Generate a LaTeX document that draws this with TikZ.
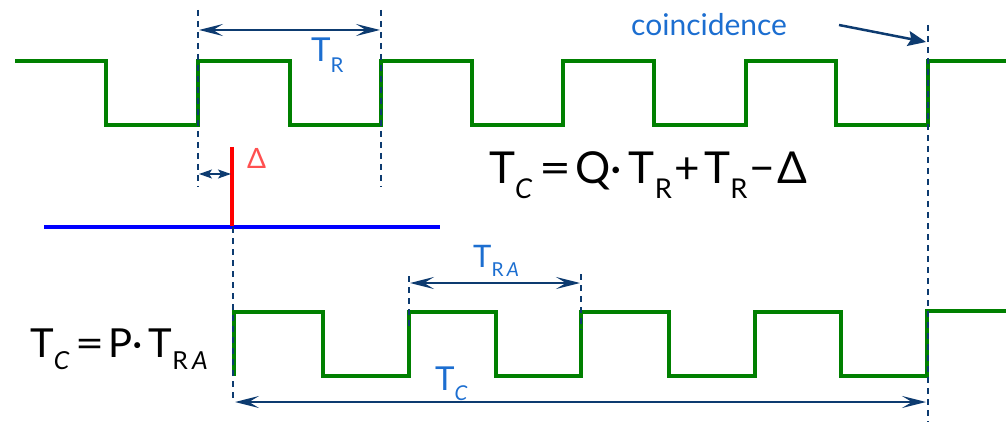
\documentclass[tikz,border=0pt]{standalone}
\usepackage{fontspec}
\setmainfont{Lato}
\usepackage{graphicx}
\usetikzlibrary{arrows.meta}
\definecolor{wavegreen}{HTML}{008000}
\definecolor{navy}{HTML}{0D3B70}
\definecolor{lblue}{HTML}{1C6ED0}
\definecolor{dred}{HTML}{FF5050}
\definecolor{pblue}{HTML}{0000FF}
\definecolor{pred}{HTML}{FF0000}
\newcommand\lo[1]{\raisebox{-0.32em}{\scalebox{0.62}{#1}}}
\newcommand\weq{\scalebox{1.25}[1]{=}}
\begin{document}
\begin{tikzpicture}[x=1pt,y=-1pt,
  wave/.style={draw=wavegreen,line width=4pt,line join=miter},
  guide/.style={draw=navy,line width=1.5pt,dash pattern=on 6pt off 5pt},
  dim/.style={draw=navy,line width=2pt,{Stealth[length=24pt,width=12pt,inset=10pt]}-{Stealth[length=24pt,width=12pt,inset=10pt]}},
  smalldim/.style={draw=navy,line width=1.5pt,{Stealth[length=13pt,width=9pt,inset=3pt]}-{Stealth[length=13pt,width=9pt,inset=3pt]}},
  pointer/.style={draw=navy,line width=2.5pt,-{Stealth[length=18pt,width=15pt,inset=3pt]}},
  lbl/.style={text=lblue,inner sep=0pt,anchor=base west},
  eq/.style={text=black,inner sep=0pt,anchor=base west}]
\useasboundingbox (0,0) rectangle (1006,422);

% waveforms
\draw[wave] (15,61) -- (106,61) -- (106,125) -- (198,125) -- (198,61) -- (290,61) -- (290,125)
  -- (381,125) -- (381,61) -- (472,61) -- (472,125) -- (563,125) -- (563,61) -- (654,61)
  -- (654,125) -- (746,125) -- (746,61) -- (836,61) -- (836,125) -- (928,125) -- (928,61) -- (1006,61);
\draw[wave] (234,376) -- (234,312) -- (323,312) -- (323,376) -- (409,376) -- (409,312) -- (496,312)
  -- (496,376) -- (581,376) -- (581,312) -- (669,312) -- (669,376) -- (755,376) -- (755,312)
  -- (841,312) -- (841,376) -- (927,376) -- (927,311) -- (1006,311);

% reference lines
\draw[draw=pblue,line width=4pt] (44,227) -- (440,227);
\draw[draw=pred,line width=4pt] (232,147) -- (232,226);

% guide coordinates
\coordinate (g1t) at (198,10);  \coordinate (g1b) at (198,187);
\coordinate (g2t) at (381,10);  \coordinate (g2b) at (381,187);
\coordinate (g3t) at (928,25);  \coordinate (g3b) at (928,422);
\coordinate (g4t) at (233,227); \coordinate (g4b) at (233,402);
\coordinate (g5t) at (409,276); \coordinate (g5b) at (409,330);
\coordinate (g6t) at (581,274); \coordinate (g6b) at (581,330);
\draw[guide] (g1t) -- (g1b);
\draw[guide] (g2t) -- (g2b);
\draw[guide] (g3t) -- (g3b);
\draw[guide] (g4t) -- (g4b);
\draw[guide] (g5t) -- (g5b);
\draw[guide] (g6t) -- (g6b);

% dimension arrows
\coordinate (trL) at (199,30);  \coordinate (trR) at (380,30);
\coordinate (dL) at (199,174);  \coordinate (dR) at (231,174);
\coordinate (traL) at (410,283); \coordinate (traR) at (580,283);
\coordinate (tcL) at (235,402); \coordinate (tcR) at (926,402);
\draw[dim] (trL) -- (trR);
\draw[smalldim] (dL) -- (dR);
\draw[dim] (traL) -- (traR);
\draw[dim] (tcL) -- (tcR);

% labels
\node[lbl,font=\fontsize{33}{33}\selectfont] (tr) at (311,62) {T\lo{R}};
\node[lbl,font=\fontsize{30}{30}\selectfont] (coin) at (631,36) {coincidence};
\coordinate (coinTip) at (926,42);
\draw[pointer] (839,25) -- (coinTip);
\node[inner sep=0pt,anchor=base west,text=dred,font=\fontsize{28}{28}\selectfont] (delta) at (247,169) {Δ};
\node[eq,font=\fontsize{44}{44}\selectfont] (eq1) at (489,184)
  {T\lo{\itshape C}\hspace{7pt}\weq\hspace{4pt}Q·\hspace{7pt}T\lo{R}\hspace{3pt}+\hspace{4pt}T\lo{R}\hspace{2pt}−\hspace{3pt}Δ};
\node[eq,font=\fontsize{40}{40}\selectfont] (eq2) at (30,357)
  {T\lo{\itshape C}\hspace{6pt}\weq\hspace{4pt}P·\hspace{6pt}T\lo{R\,\itshape A}};
\node[lbl,font=\fontsize{31}{31}\selectfont] (tra) at (473,267) {T\lo{R\,\itshape A}};
\node[lbl,font=\fontsize{33}{33}\selectfont] (tc) at (435,390) {T\lo{\itshape C}};
\end{tikzpicture}
\end{document}
